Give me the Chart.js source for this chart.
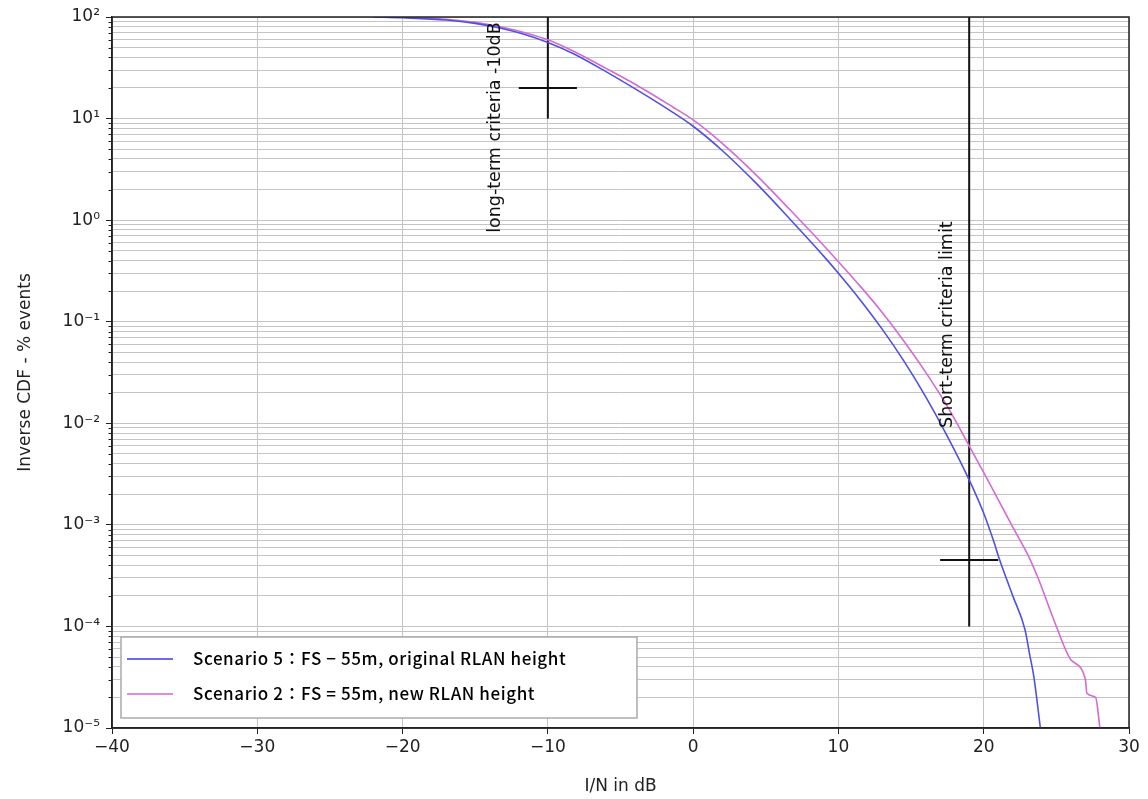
<!DOCTYPE html>
<html>
<head>
<meta charset="utf-8">
<title>Inverse CDF - I/N</title>
<script src="https://cdn.jsdelivr.net/npm/chart.js@4"></script>
<style>
  html, body { margin: 0; padding: 0; background: #fff; }
  #wrap { width: 1148px; height: 799px; }
</style>
</head>
<body>
<div id="wrap"><canvas id="cdfChart" width="1148" height="799"></canvas></div>
<script>
// Scenario 5: FS - 55m, original RLAN height (blue)
const scen5X = [-22, -20, -17, -15, -13.3, -11.7, -10, -8.2, -6, -3.7, -1.4, 0, 2, 4.4, 6.7, 9, 10, 11.5, 13, 14.5, 16, 17.5, 19, 20, 20.7, 21.1, 22, 22.85, 23.15, 23.45, 23.9];
const scen5Y = [100, 98.2, 93.5, 86.5, 77.8, 67.9, 56.2, 43.3, 29, 18.5, 11.5, 8.4, 4.85, 2.26, 1.01, 0.44, 0.30, 0.164, 0.085, 0.0411, 0.0183, 0.00745, 0.00277, 0.0013, 6.8e-4, 4.5e-4, 2e-4, 9.2e-5, 5.4e-5, 3.2e-5, 1e-5];

// Scenario 2: FS = 55m, new RLAN height (magenta)
const scen2X = [-22, -20, -17, -15, -13.3, -11.7, -10, -8.2, -6, -3.7, -1.4, 0, 2, 4.4, 6.7, 9, 10, 11.5, 13, 14.5, 16, 17.5, 19, 20.2, 22, 23, 23.7, 25, 26, 27, 27.1, 27.7, 28];
const scen2Y = [100, 99.5, 94.9, 88.5, 80.2, 70.8, 59.6, 45.7, 31.2, 20.6, 13.0, 9.7, 5.7, 2.73, 1.25, 0.56, 0.39, 0.224, 0.124, 0.0647, 0.0319, 0.01465, 0.006, 0.0029, 9.5e-4, 5.2e-4, 3.1e-4, 1e-4, 4.7e-5, 3e-5, 2.2e-5, 2e-5, 1e-5];

// criteria markers (crosses)
const longVertX = [-10, -10];
const longVertY = [10, 100];
const longHorzX = [-12, -8];
const longHorzY = [20, 20];
const shortVertX = [19, 19];
const shortVertY = [1e-4, 100];
const shortHorzX = [17, 21];
const shortHorzY = [4.5e-4, 4.5e-4];

// axis ticks
const xTicks = [-40, -30, -20, -10, 0, 10, 20, 30];
const yExponents = [-5, -4, -3, -2, -1, 0, 1, 2];
const yMinorSteps = [2, 3, 4, 5, 6, 7, 8, 9];

const supMap = { '-': '\u207B', '0': '\u2070', '1': '\u00B9', '2': '\u00B2', '3': '\u00B3', '4': '\u2074', '5': '\u2075' };
function pow10Label(e) {
  return '10' + String(e).split('').map(c => supMap[c]).join('');
}

function toPoints(xs, ys) {
  return xs.map((x, i) => ({ x: x, y: ys[i] }));
}

function markerSet(xs, ys) {
  return {
    data: toPoints(xs, ys),
    borderColor: '#111',
    borderWidth: 2,
    pointRadius: 0,
    tension: 0,
    inLegend: false
  };
}

// rotated notes, minor ticks, top/right spines and the legend box
const extrasPlugin = {
  id: 'extras',
  afterDatasetsDraw(chart) {
    const { ctx, chartArea: a, scales: { x, y } } = chart;

    ctx.save();
    ctx.fillStyle = '#111';
    ctx.font = '17.5px "DejaVu Sans"';
    ctx.textAlign = 'left';
    ctx.textBaseline = 'middle';
    const notes = [
      { text: 'long-term criteria -10dB', x: -13.6, y: 0.75 },
      { text: 'Short-term criteria limit', x: 17.5, y: 0.009 }
    ];
    notes.forEach(n => {
      ctx.save();
      ctx.translate(x.getPixelForValue(n.x), y.getPixelForValue(n.y));
      ctx.rotate(-Math.PI / 2);
      ctx.fillText(n.text, 0, 0);
      ctx.restore();
    });
    ctx.restore();

    // minor y ticks
    ctx.save();
    ctx.strokeStyle = '#222';
    ctx.lineWidth = 1;
    yExponents.forEach(e => {
      yMinorSteps.forEach(k => {
        const v = k * Math.pow(10, e);
        if (v > 100) return;
        const py = Math.round(y.getPixelForValue(v)) + 0.5;
        ctx.beginPath();
        ctx.moveTo(a.left - 3.5, py);
        ctx.lineTo(a.left, py);
        ctx.stroke();
      });
    });
    ctx.restore();

    // frame
    ctx.save();
    ctx.strokeStyle = '#222';
    ctx.lineWidth = 1.5;
    ctx.strokeRect(a.left, a.top, a.right - a.left, a.bottom - a.top);
    ctx.restore();

    // legend
    const items = chart.data.datasets.filter(d => d.inLegend !== false);
    const bx = a.left + 9, by = a.bottom - 91, bw = 516, bh = 81;
    ctx.save();
    ctx.fillStyle = '#fff';
    ctx.fillRect(bx, by, bw, bh);
    ctx.strokeStyle = '#aaa';
    ctx.lineWidth = 1.5;
    ctx.strokeRect(bx, by, bw, bh);
    ctx.font = '500 17px "Noto Sans CJK JP"';
    ctx.letterSpacing = '0.6px';
    ctx.textBaseline = 'middle';
    ctx.textAlign = 'left';
    items.forEach((d, i) => {
      const ly = by + 22 + i * 35;
      ctx.strokeStyle = d.legendColor || d.borderColor;
      ctx.lineWidth = 2;
      ctx.beginPath();
      ctx.moveTo(bx + 6, ly);
      ctx.lineTo(bx + 52, ly);
      ctx.stroke();
      ctx.fillStyle = '#000';
      ctx.fillText(d.label, bx + 72, ly);
    });
    ctx.restore();
  }
};

new Chart(document.getElementById('cdfChart'), {
  type: 'line',
  data: {
    datasets: [
      {
        label: 'Scenario 5\uFF1AFS \u2212 55m, original RLAN height',
        data: toPoints(scen5X, scen5Y),
        borderColor: '#5050e6',
        legendColor: '#6a6af0',
        borderWidth: 1.6,
        pointRadius: 0,
        cubicInterpolationMode: 'monotone'
      },
      {
        label: 'Scenario 2\uFF1AFS = 55m, new RLAN height',
        data: toPoints(scen2X, scen2Y),
        borderColor: '#d46ad4',
        legendColor: '#e08ae0',
        borderWidth: 1.6,
        pointRadius: 0,
        cubicInterpolationMode: 'monotone'
      },
      markerSet(longVertX, longVertY),
      markerSet(longHorzX, longHorzY),
      markerSet(shortVertX, shortVertY),
      markerSet(shortHorzX, shortHorzY)
    ]
  },
  options: {
    responsive: false,
    animation: false,
    devicePixelRatio: 1,
    layout: { padding: { top: 17, right: 19, left: 0, bottom: 0 } },
    plugins: {
      legend: { display: false },
      tooltip: { enabled: false }
    },
    scales: {
      x: {
        type: 'linear',
        min: -40,
        max: 30,
        afterFit: s => { s.height = 71; },
        afterBuildTicks: s => { s.ticks = xTicks.map(v => ({ value: v })); },
        ticks: {
          color: '#222',
          font: { family: 'DejaVu Sans', size: 17 },
          padding: 3,
          callback: v => (v < 0 ? '\u2212' + Math.abs(v) : String(v))
        },
        grid: { color: '#c4c4c4', lineWidth: 1, tickLength: 6, tickColor: '#222' },
        border: { display: true, color: '#222', width: 1.5 },
        title: {
          display: true,
          text: 'I/N in dB',
          color: '#222',
          font: { family: 'DejaVu Sans', size: 17 },
          padding: { bottom: 2, top: 0 }
        }
      },
      y: {
        type: 'logarithmic',
        min: 1e-5,
        max: 100,
        afterFit: s => { s.width = 112; },
        afterBuildTicks: s => {
          const t = [];
          yExponents.forEach(e => {
            for (let k = 1; k <= 9; k++) {
              const v = k * Math.pow(10, e);
              if (v <= 100 + 1e-9) t.push({ value: v, major: k === 1 });
            }
          });
          s.ticks = t;
        },
        ticks: {
          autoSkip: false,
          color: '#222',
          font: { family: 'DejaVu Sans', size: 17 },
          padding: 6,
          callback: (v, i, ticks) => (ticks[i].major ? pow10Label(Math.round(Math.log10(v))) : '')
        },
        grid: {
          color: '#c4c4c4',
          lineWidth: 1,
          tickLength: 6,
          tickColor: c => (c.tick && c.tick.major ? '#222' : 'rgba(0,0,0,0)')
        },
        border: { display: true, color: '#222', width: 1.5 },
        title: {
          display: true,
          text: 'Inverse CDF - % events',
          color: '#222',
          font: { family: 'DejaVu Sans', size: 17 },
          padding: { top: 15, bottom: 0 }
        }
      }
    }
  },
  plugins: [extrasPlugin]
});
</script>
</body>
</html>
